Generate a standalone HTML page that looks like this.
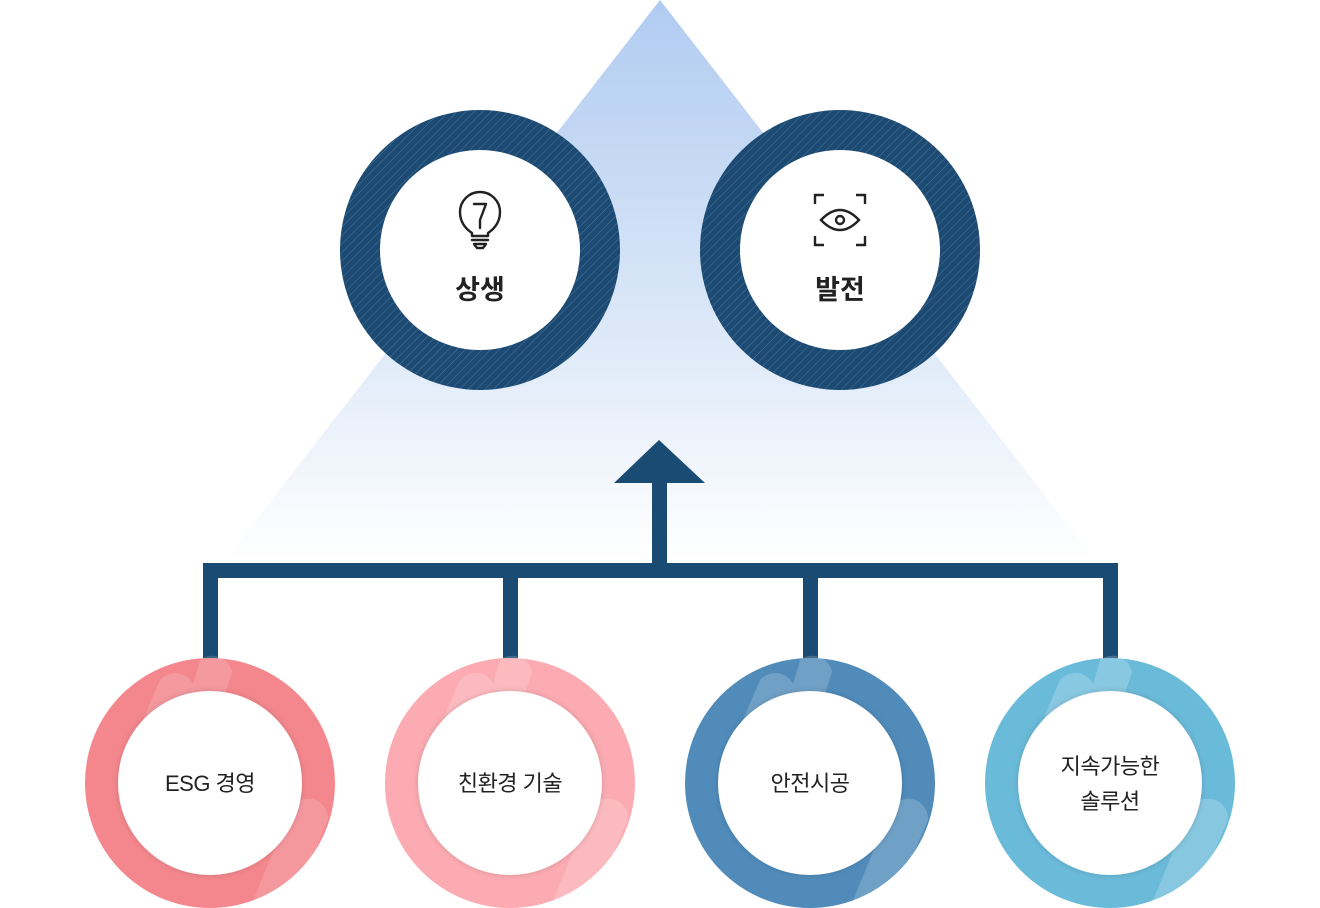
<!DOCTYPE html>
<html><head><meta charset="utf-8">
<style>
html,body{margin:0;padding:0;background:#fff;}
svg{display:block;}
text{font-family:"Liberation Sans","Noto Sans CJK KR",sans-serif;}
</style></head>
<body>
<svg width="1320" height="908" viewBox="0 0 1320 908" xmlns="http://www.w3.org/2000/svg">
<defs>
<linearGradient id="tri" x1="0" y1="0" x2="0" y2="1">
<stop offset="0" stop-color="#b1cbf1"/>
<stop offset="0.6" stop-color="#dde9f8"/>
<stop offset="1" stop-color="#ffffff"/>
</linearGradient>
<pattern id="hatch" width="6" height="6" patternUnits="userSpaceOnUse" patternTransform="rotate(45)">
<rect width="6" height="6" fill="#1c4a72"/>
<line x1="0" y1="0" x2="0" y2="6" stroke="#4a78a0" stroke-width="1"/>
</pattern>
<filter id="sh" x="-20%" y="-20%" width="140%" height="140%">
<feDropShadow dx="0" dy="0" stdDeviation="3" flood-color="#000" flood-opacity="0.15"/>
</filter>
</defs>
<polygon points="660,0 1095,560 225,560" fill="url(#tri)"/>

<circle cx="480" cy="250" r="140" fill="url(#hatch)"/>
<circle cx="480" cy="250" r="100" fill="#fff"/>
<circle cx="840" cy="250" r="140" fill="url(#hatch)"/>
<circle cx="840" cy="250" r="100" fill="#fff"/>

<g fill="none" stroke="#222" stroke-width="2.4" stroke-linecap="round" stroke-linejoin="round">
<path d="M472,233 C463,227 460,220 460,212 A20,20 0 1 1 500,212 C500,220 497,227 488,233 L488,236 L472,236 Z"/>
<path d="M474,204 L486,204 L480,220 L480,228"/>
<line x1="472" y1="240" x2="488" y2="240"/>
<path d="M474,244 L486,244 L483,248 L477,248 Z"/>
</g>
<text x="480" y="299" font-size="27" font-weight="bold" fill="#222" text-anchor="middle">상생</text>

<g fill="none" stroke="#222" stroke-width="2.4">
<path d="M815,204 L815,195 L824,195 M856,195 L865,195 L865,204 M865,236 L865,245 L856,245 M824,245 L815,245 L815,236"/>
<path d="M821,220 Q840,200 859,220 Q840,240 821,220 Z"/>
<circle cx="840" cy="220" r="4"/>
</g>
<text x="840" y="299" font-size="27" font-weight="bold" fill="#222" text-anchor="middle">발전</text>

<g fill="#1a4b73">
<polygon points="659,440 705,483 614,483"/>
<rect x="652" y="482" width="15" height="88"/>
<rect x="203" y="563" width="915" height="15"/>
<rect x="203" y="563" width="15" height="100"/>
<rect x="503" y="563" width="15" height="100"/>
<rect x="803" y="563" width="15" height="100"/>
<rect x="1103" y="563" width="15" height="100"/>
</g>

<g>
<circle cx="210" cy="783" r="125" fill="#f3878d"/>
<g fill="#fff" opacity="0.15">
<path d="M160,680 A20,20 0 0 1 195,690 L170,760 L130,750 Z"/>
<path d="M200,660 A20,20 0 0 1 232,672 L210,740 L180,730 Z"/>
<path d="M290,810 A20,20 0 0 1 328,820 L290,908 L250,908 Z"/>
</g>
<circle cx="210" cy="783" r="92" fill="#fff" filter="url(#sh)"/>
<text x="210" y="791" font-size="22" fill="#222" text-anchor="middle" letter-spacing="-0.5">ESG 경영</text>
</g>
<g>
<circle cx="510" cy="783" r="125" fill="#fbabb1"/>
<g fill="#fff" opacity="0.18">
<path d="M460,680 A20,20 0 0 1 495,690 L470,760 L430,750 Z"/>
<path d="M500,660 A20,20 0 0 1 532,672 L510,740 L480,730 Z"/>
<path d="M590,810 A20,20 0 0 1 628,820 L590,908 L550,908 Z"/>
</g>
<circle cx="510" cy="783" r="92" fill="#fff" filter="url(#sh)"/>
<text x="510" y="791" font-size="22" fill="#222" text-anchor="middle" letter-spacing="-0.5">친환경 기술</text>
</g>
<g>
<circle cx="810" cy="783" r="125" fill="#508bba"/>
<g fill="#fff" opacity="0.18">
<path d="M760,680 A20,20 0 0 1 795,690 L770,760 L730,750 Z"/>
<path d="M800,660 A20,20 0 0 1 832,672 L810,740 L780,730 Z"/>
<path d="M890,810 A20,20 0 0 1 928,820 L890,908 L850,908 Z"/>
</g>
<circle cx="810" cy="783" r="92" fill="#fff" filter="url(#sh)"/>
<text x="810" y="791" font-size="22" fill="#222" text-anchor="middle" letter-spacing="-0.5">안전시공</text>
</g>
<g>
<circle cx="1110" cy="783" r="125" fill="#6abad9"/>
<g fill="#fff" opacity="0.2">
<path d="M1060,680 A20,20 0 0 1 1095,690 L1070,760 L1030,750 Z"/>
<path d="M1100,660 A20,20 0 0 1 1132,672 L1110,740 L1080,730 Z"/>
<path d="M1190,810 A20,20 0 0 1 1228,820 L1190,908 L1150,908 Z"/>
</g>
<circle cx="1110" cy="783" r="92" fill="#fff" filter="url(#sh)"/>
<text x="1110" y="774" font-size="22" fill="#222" text-anchor="middle" letter-spacing="-0.5">지속가능한</text>
<text x="1110" y="809" font-size="22" fill="#222" text-anchor="middle" letter-spacing="-0.5">솔루션</text>
</g>
</svg>
</body></html>
